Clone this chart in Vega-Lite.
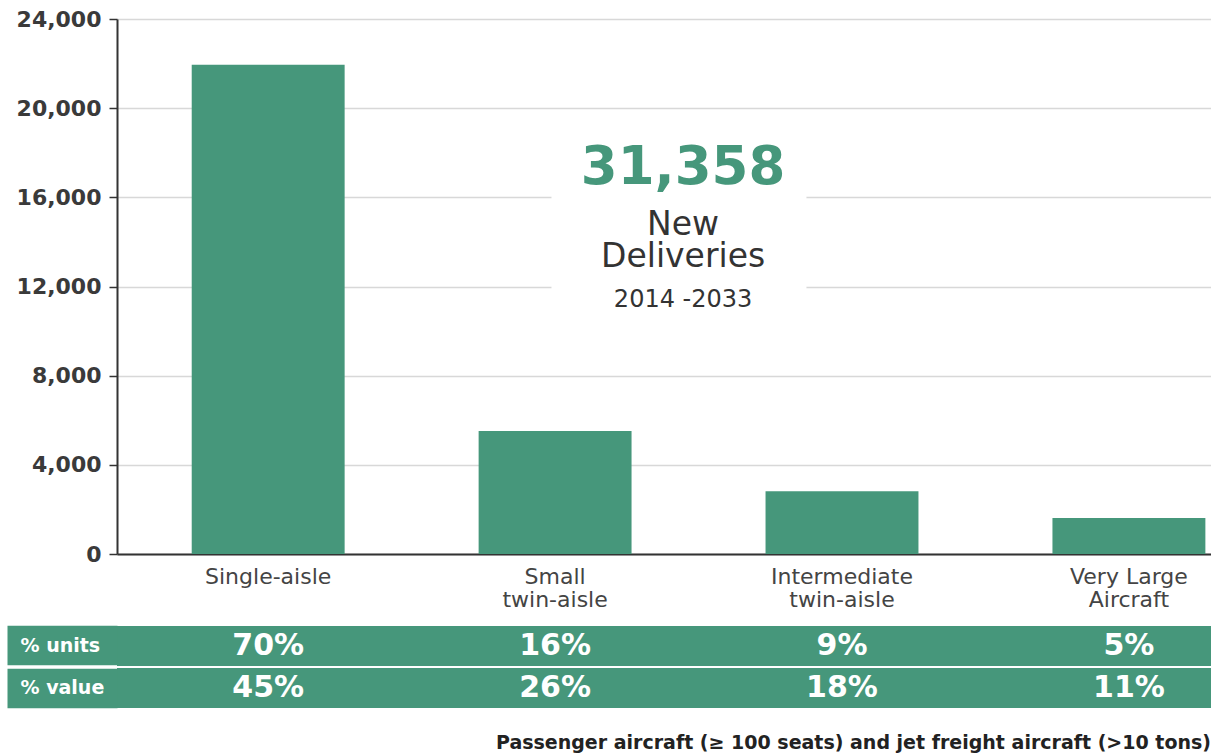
{
  "$schema": "https://vega.github.io/schema/vega-lite/v6.json",
  "padding": {"left": -13, "top": 8, "right": 0, "bottom": 0},
  "background": "white",
  "config": {"view": {"stroke": null}, "font": "DejaVu Sans"},
  "spacing": 15,
  "title": {"text": "Passenger aircraft (≥ 100 seats) and jet freight aircraft (>10 tons)", "orient": "bottom", "anchor": "end", "font": "DejaVu Sans", "fontSize": 19, "fontWeight": "bold", "color": "#222222", "offset": 26},
  "vconcat": [
    {
      "width": 1094,
      "height": 535,
      "data": {"values": [
        {"category": "Single-aisle", "deliveries": 21950},
        {"category": "Small twin-aisle", "deliveries": 5520},
        {"category": "Intermediate twin-aisle", "deliveries": 2813},
        {"category": "Very Large Aircraft", "deliveries": 1615}
      ]},
      "layer": [
        {
          "mark": {"type": "bar", "color": "#46977b"},
          "encoding": {
            "x": {"field": "category", "type": "nominal", "sort": null,
              "scale": {"type": "band", "domain": ["Single-aisle", "Small twin-aisle", "Intermediate twin-aisle", "Very Large Aircraft"], "paddingInner": 0.467, "paddingOuter": 0.14, "align": 0.93},
              "axis": {"title": null, "ticks": false, "grid": false, "domainColor": "#333333", "domainWidth": 2, "labelFont": "DejaVu Sans", "labelFontSize": 22, "labelColor": "#444444", "labelPadding": 12, "labelLineHeight": 23, "labelAngle": 0,
                "labelExpr": "datum.value === 'Very Large Aircraft' ? ['Very Large', 'Aircraft'] : split(datum.value, ' ')"}},
            "y": {"field": "deliveries", "type": "quantitative",
              "scale": {"domain": [0, 24000], "nice": false},
              "axis": {"title": null, "values": [0, 4000, 8000, 12000, 16000, 20000, 24000], "format": ",d", "labelFont": "DejaVu Sans", "labelFontSize": 22, "labelFontWeight": "bold", "labelColor": "#3a3a3a", "labelPadding": 8, "tickSize": 8, "tickColor": "#333333", "tickWidth": 1.5, "domainColor": "#333333", "domainWidth": 2, "grid": true, "gridColor": "#d8d8d8", "gridWidth": 1.5, "minExtent": 110, "maxExtent": 110}}
          }
        },
        {
          "data": {"values": [{}]},
          "mark": {"type": "point", "shape": "M-1.275,-1H1.275V1H-1.275Z", "size": 40000, "filled": true, "color": "white", "opacity": 1, "strokeWidth": 0},
          "encoding": {
            "x": {"datum": "Small twin-aisle", "type": "nominal", "bandPosition": 1.31},
            "y": {"datum": 14800, "type": "quantitative"}
          }
        },
        {
          "data": {"values": [{"label": "31,358"}]},
          "mark": {"type": "text", "font": "DejaVu Sans", "fontSize": 53, "fontWeight": "bold", "color": "#46977b", "baseline": "middle"},
          "encoding": {
            "x": {"datum": "Small twin-aisle", "type": "nominal", "bandPosition": 1.337},
            "y": {"datum": 17300, "type": "quantitative"},
            "text": {"field": "label"}
          }
        },
        {
          "data": {"values": [{"label": "New\nDeliveries"}]},
          "mark": {"type": "text", "font": "DejaVu Sans", "fontSize": 33, "lineHeight": 32.5, "lineBreak": "\n", "color": "#333333", "baseline": "middle"},
          "encoding": {
            "x": {"datum": "Small twin-aisle", "type": "nominal", "bandPosition": 1.337},
            "y": {"datum": 14760, "type": "quantitative"},
            "text": {"field": "label"}
          }
        },
        {
          "data": {"values": [{"label": "2014 -2033"}]},
          "mark": {"type": "text", "font": "DejaVu Sans", "fontSize": 24, "color": "#333333", "baseline": "middle"},
          "encoding": {
            "x": {"datum": "Small twin-aisle", "type": "nominal", "bandPosition": 1.337},
            "y": {"datum": 11394, "type": "quantitative"},
            "text": {"field": "label"}
          }
        }
      ]
    },
    {
      "width": 1094,
      "height": 82,
      "data": {"values": [
        {"metric": "% units", "category": "Single-aisle", "share": "70%"},
        {"metric": "% units", "category": "Small twin-aisle", "share": "16%"},
        {"metric": "% units", "category": "Intermediate twin-aisle", "share": "9%"},
        {"metric": "% units", "category": "Very Large Aircraft", "share": "5%"},
        {"metric": "% value", "category": "Single-aisle", "share": "45%"},
        {"metric": "% value", "category": "Small twin-aisle", "share": "26%"},
        {"metric": "% value", "category": "Intermediate twin-aisle", "share": "18%"},
        {"metric": "% value", "category": "Very Large Aircraft", "share": "11%"}
      ]},
      "layer": [
        {
          "mark": {"type": "rect", "color": "#46977b", "opacity": 1},
          "encoding": {
            "y": {"field": "metric", "type": "nominal", "sort": ["% units", "% value"],
              "scale": {"type": "band", "paddingInner": 0.06, "paddingOuter": 0},
              "axis": {"title": null, "orient": "left", "domain": false, "ticks": true, "tickSize": 110, "tickWidth": 39.7, "tickColor": "#46977b", "tickCap": "butt", "labelPadding": -13, "labelAlign": "left", "labelFont": "DejaVu Sans", "labelFontSize": 19, "labelFontWeight": "bold", "labelColor": "white", "grid": false, "minExtent": 110, "maxExtent": 110}}
          }
        },
        {
          "mark": {"type": "text", "font": "DejaVu Sans", "fontSize": 30, "fontWeight": "bold", "color": "white", "baseline": "middle"},
          "encoding": {
            "x": {"field": "category", "type": "nominal", "sort": null,
              "scale": {"type": "band", "domain": ["Single-aisle", "Small twin-aisle", "Intermediate twin-aisle", "Very Large Aircraft"], "paddingInner": 0.467, "paddingOuter": 0.14, "align": 0.93},
              "axis": null},
            "y": {"field": "metric", "type": "nominal", "sort": ["% units", "% value"]},
            "text": {"field": "share"}
          }
        }
      ]
    }
  ]
}
